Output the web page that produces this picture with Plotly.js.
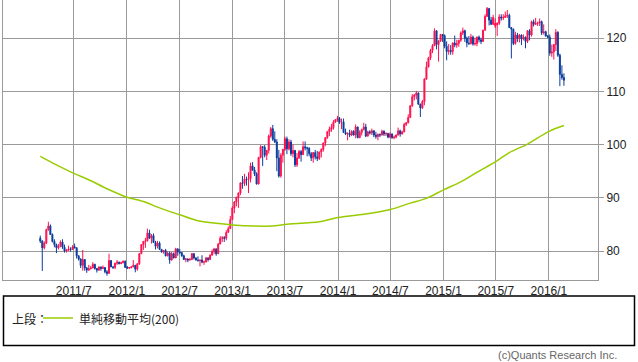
<!DOCTYPE html>
<html>
<head>
<meta charset="utf-8">
<script src="https://cdn.plot.ly/plotly-3.0.1.min.js"></script>
<style>
html,body{margin:0;padding:0;background:#fff;}
#chart{width:638px;height:362px;}
</style>
</head>
<body>
<div id="chart"></div>
<script>
// Weekly bars (week starting Monday), USD/JPY
const weeks = [
'2011-03-07','2011-03-14','2011-03-21','2011-03-28','2011-04-04','2011-04-11','2011-04-18','2011-04-25','2011-05-02','2011-05-09','2011-05-16','2011-05-23','2011-05-30','2011-06-06','2011-06-13','2011-06-20','2011-06-27','2011-07-04','2011-07-11','2011-07-18','2011-07-25','2011-08-01','2011-08-08','2011-08-15','2011-08-22','2011-08-29','2011-09-05','2011-09-12','2011-09-19','2011-09-26','2011-10-03','2011-10-10','2011-10-17','2011-10-24','2011-10-31','2011-11-07','2011-11-14','2011-11-21','2011-11-28','2011-12-05','2011-12-12','2011-12-19','2011-12-26',
'2012-01-02','2012-01-09','2012-01-16','2012-01-23','2012-01-30','2012-02-06','2012-02-13','2012-02-20','2012-02-27','2012-03-05','2012-03-12','2012-03-19','2012-03-26','2012-04-02','2012-04-09','2012-04-16','2012-04-23','2012-04-30','2012-05-07','2012-05-14','2012-05-21','2012-05-28','2012-06-04','2012-06-11','2012-06-18','2012-06-25','2012-07-02','2012-07-09','2012-07-16','2012-07-23','2012-07-30','2012-08-06','2012-08-13','2012-08-20','2012-08-27','2012-09-03','2012-09-10','2012-09-17','2012-09-24','2012-10-01','2012-10-08','2012-10-15','2012-10-22','2012-10-29','2012-11-05','2012-11-12','2012-11-19','2012-11-26','2012-12-03','2012-12-10','2012-12-17','2012-12-24','2012-12-31',
'2013-01-07','2013-01-14','2013-01-21','2013-01-28','2013-02-04','2013-02-11','2013-02-18','2013-02-25','2013-03-04','2013-03-11','2013-03-18','2013-03-25','2013-04-01','2013-04-08','2013-04-15','2013-04-22','2013-04-29','2013-05-06','2013-05-13','2013-05-20','2013-05-27','2013-06-03','2013-06-10','2013-06-17','2013-06-24','2013-07-01','2013-07-08','2013-07-15','2013-07-22','2013-07-29','2013-08-05','2013-08-12','2013-08-19','2013-08-26','2013-09-02','2013-09-09','2013-09-16','2013-09-23','2013-09-30','2013-10-07','2013-10-14','2013-10-21','2013-10-28','2013-11-04','2013-11-11','2013-11-18','2013-11-25','2013-12-02','2013-12-09','2013-12-16','2013-12-23','2013-12-30',
'2014-01-06','2014-01-13','2014-01-20','2014-01-27','2014-02-03','2014-02-10','2014-02-17','2014-02-24','2014-03-03','2014-03-10','2014-03-17','2014-03-24','2014-03-31','2014-04-07','2014-04-14','2014-04-21','2014-04-28','2014-05-05','2014-05-12','2014-05-19','2014-05-26','2014-06-02','2014-06-09','2014-06-16','2014-06-23','2014-06-30','2014-07-07','2014-07-14','2014-07-21','2014-07-28','2014-08-04','2014-08-11','2014-08-18','2014-08-25','2014-09-01','2014-09-08','2014-09-15','2014-09-22','2014-09-29','2014-10-06','2014-10-13','2014-10-20','2014-10-27','2014-11-03','2014-11-10','2014-11-17','2014-11-24','2014-12-01','2014-12-08','2014-12-15','2014-12-22','2014-12-29',
'2015-01-05','2015-01-12','2015-01-19','2015-01-26','2015-02-02','2015-02-09','2015-02-16','2015-02-23','2015-03-02','2015-03-09','2015-03-16','2015-03-23','2015-03-30','2015-04-06','2015-04-13','2015-04-20','2015-04-27','2015-05-04','2015-05-11','2015-05-18','2015-05-25','2015-06-01','2015-06-08','2015-06-15','2015-06-22','2015-06-29','2015-07-06','2015-07-13','2015-07-20','2015-07-27','2015-08-03','2015-08-10','2015-08-17','2015-08-24','2015-08-31','2015-09-07','2015-09-14','2015-09-21','2015-09-28','2015-10-05','2015-10-12','2015-10-19','2015-10-26','2015-11-02','2015-11-09','2015-11-16','2015-11-23','2015-11-30','2015-12-07','2015-12-14','2015-12-21','2015-12-28',
'2016-01-04','2016-01-11','2016-01-18','2016-01-25','2016-02-01','2016-02-08','2016-02-15','2016-02-22'
];

const open = [
82.4,81.9,80.6,81.5,84.0,84.7,83.1,81.8,81.2,80.6,80.9,81.7,80.7,80.0,80.2,80.4,80.3,80.8,80.6,79.1,78.5,77.3,78.4,76.8,76.4,76.7,76.8,77.5,76.7,76.4,77.0,76.7,76.9,76.1,75.8,78.2,77.0,76.9,77.7,77.9,77.6,77.8,78.1,
76.9,76.8,76.9,77.0,77.3,76.6,77.6,79.5,81.2,81.8,81.9,83.4,82.4,82.9,81.6,80.9,81.5,80.3,79.8,80.1,79.1,79.6,78.3,79.5,78.7,80.4,79.8,79.7,79.1,78.4,78.5,78.3,78.4,79.5,78.7,78.3,78.2,78.3,77.9,78.0,78.7,78.4,79.2,79.9,80.4,79.5,81.3,82.4,82.5,82.4,83.5,84.2,85.9,
88.1,89.2,90.1,90.9,92.8,92.7,93.5,93.4,93.6,96.0,95.2,94.5,92.6,97.6,99.6,99.5,98.0,98.9,101.6,103.0,101.0,100.5,97.5,94.1,98.0,99.1,101.1,99.2,100.5,98.3,98.9,96.2,97.5,98.7,98.1,99.6,99.4,99.3,98.3,97.5,98.5,97.7,97.4,98.6,99.1,100.3,101.3,102.4,102.9,103.2,104.2,104.7,
104.9,104.2,104.3,102.3,102.0,102.1,101.8,102.5,101.8,103.3,101.3,102.3,102.8,103.3,101.6,102.4,102.2,102.6,101.8,101.5,101.9,101.8,102.5,102.0,102.1,101.4,102.0,101.3,101.4,101.8,102.6,102.0,102.4,103.8,104.1,105.1,107.3,109.0,109.3,109.7,107.6,106.9,108.1,112.3,114.6,116.3,117.7,118.6,121.4,118.8,119.5,120.7,
120.5,118.5,117.5,117.7,117.5,119.1,118.7,119.0,119.6,121.0,121.4,120.0,119.1,119.0,120.2,118.9,119.0,120.2,119.7,119.4,121.5,124.1,125.6,123.4,122.6,122.3,122.5,122.8,124.0,123.8,123.9,124.2,124.3,122.0,121.7,119.0,120.6,120.0,120.6,119.9,120.2,119.4,121.4,120.6,123.1,122.6,122.8,122.9,123.1,121.0,121.2,120.4,
120.2,117.2,117.4,118.8,121.1,116.8,113.2,112.6
];

const high = [
82.9,82.0,81.8,84.2,85.5,85.0,83.3,82.2,81.4,81.3,82.0,82.2,81.2,80.4,81.0,80.7,81.1,81.4,80.7,79.2,78.6,80.2,78.5,77.0,77.4,77.2,77.9,77.6,76.8,77.1,77.1,77.3,77.0,76.4,79.5,78.3,77.2,77.8,78.3,78.0,78.0,78.2,78.2,
77.2,77.0,77.2,78.3,77.4,77.7,79.6,81.3,81.9,82.5,84.2,84.0,83.2,83.3,81.9,81.9,81.8,80.4,80.2,80.4,79.9,79.9,79.8,79.7,80.6,80.5,80.4,79.8,79.3,78.7,78.6,78.7,79.6,79.6,78.8,79.0,78.4,79.2,78.2,78.9,78.8,79.4,80.3,80.6,80.5,81.5,82.8,82.8,82.8,83.9,84.6,86.6,88.4,
89.4,90.2,91.0,92.9,94.1,94.5,94.0,94.8,96.6,96.7,95.8,94.8,97.7,99.9,99.7,99.9,99.0,101.9,103.3,103.7,102.5,101.0,99.0,98.4,99.2,101.5,101.5,101.0,100.9,100.0,99.0,98.4,99.0,99.0,100.6,100.6,99.6,99.5,98.6,98.6,99.0,98.8,98.7,99.3,100.4,101.4,102.6,103.4,103.9,104.6,104.8,105.4,
105.2,104.9,104.9,103.0,102.3,102.8,102.7,102.7,103.8,103.4,102.7,103.0,104.1,103.9,102.6,102.7,103.0,102.7,102.4,102.1,102.1,102.8,102.7,102.3,102.2,102.3,102.1,101.7,101.9,103.2,102.8,102.6,104.1,104.2,105.7,107.4,109.5,109.5,110.1,109.8,107.7,108.4,112.5,115.6,116.5,118.0,118.9,121.85,121.5,119.6,120.8,120.8,
120.7,119.4,118.9,118.7,119.2,120.5,119.7,119.7,121.3,122.0,121.6,120.3,120.4,120.8,120.5,120.1,120.3,120.5,120.1,121.6,124.5,125.86,125.6,124.0,124.4,123.7,123.0,124.5,124.5,124.5,125.0,125.3,124.6,122.1,121.8,121.2,121.0,120.8,120.7,120.7,120.3,121.5,121.7,123.3,123.5,123.8,123.1,123.7,123.3,122.6,121.4,120.6,
120.7,118.8,118.9,121.7,121.3,117.1,114.9,113.4
];

const low = [
81.5,76.25,80.3,81.3,83.8,83.0,81.6,80.7,79.6,80.3,80.7,80.4,79.7,79.7,80.0,79.9,80.2,80.5,78.6,78.2,76.8,76.3,76.3,75.9,76.3,76.5,76.8,76.5,75.95,76.3,76.3,76.6,75.8,75.35,75.7,77.0,76.6,76.6,77.4,77.5,77.6,77.7,76.9,
76.6,76.6,76.7,77.0,76.0,76.3,77.4,79.4,80.2,80.6,81.8,82.3,81.4,81.5,80.3,80.5,80.3,79.7,79.5,79.0,79.0,77.6,78.2,78.6,78.7,79.1,79.4,78.9,78.3,77.9,77.9,78.2,78.3,78.4,78.2,78.0,77.1,77.7,77.4,77.8,78.0,78.3,79.2,79.4,79.1,79.4,81.3,81.7,81.7,82.0,83.5,84.2,85.9,
87.1,88.4,88.1,90.5,91.7,92.2,92.3,90.9,92.9,95.1,94.1,92.5,92.5,97.4,96.0,97.6,97.1,98.3,101.3,100.7,100.3,95.0,93.8,93.8,96.6,98.8,98.2,98.9,97.9,97.6,95.8,95.8,97.3,96.8,98.1,98.9,97.8,97.8,96.9,96.6,97.2,96.9,97.1,97.6,98.7,99.7,101.1,101.6,102.4,102.8,104.1,104.3,
103.9,102.9,102.2,101.8,100.8,101.4,101.6,101.7,101.2,101.2,101.2,101.7,102.7,101.4,101.5,101.9,101.8,101.4,101.1,100.8,101.4,101.7,101.6,101.6,101.2,101.2,101.1,101.0,101.2,101.7,101.5,101.9,102.3,103.5,104.0,105.0,107.1,108.3,108.5,107.5,105.2,106.7,107.4,112.2,114.5,115.9,117.2,118.5,117.9,115.6,119.3,119.3,
118.1,115.85,116.9,116.9,116.9,118.3,118.2,118.4,119.3,120.6,119.3,118.3,118.7,118.8,118.6,118.6,118.5,119.2,118.9,119.3,121.4,124.0,122.4,122.5,122.5,121.9,120.4,122.5,123.3,123.4,123.8,123.8,121.9,116.2,118.7,118.8,119.3,119.2,118.7,119.6,118.1,119.1,119.6,120.3,122.2,122.5,122.3,122.3,120.6,120.7,120.3,120.0,
116.7,116.5,115.98,117.6,116.5,110.99,112.2,111.05
];

const close = [
81.9,80.6,81.5,84.0,84.7,83.1,81.8,81.2,80.6,80.9,81.7,80.7,80.0,80.2,80.4,80.3,80.8,80.6,79.1,78.5,77.3,78.4,76.8,76.4,76.7,76.8,77.5,76.7,76.4,77.0,76.7,76.9,76.1,75.8,78.2,77.0,76.9,77.7,77.9,77.6,77.8,78.1,76.9,
76.8,76.9,77.0,77.3,76.6,77.6,79.5,81.2,81.8,81.9,83.4,82.4,82.9,81.6,80.9,81.5,80.3,79.8,80.1,79.1,79.6,78.3,79.5,78.7,80.4,79.8,79.7,79.1,78.4,78.5,78.3,78.4,79.5,78.7,78.3,78.2,78.3,77.9,78.0,78.7,78.4,79.2,79.9,80.4,79.5,81.3,82.4,82.5,82.4,83.5,84.2,85.9,88.1,
89.2,90.1,90.9,92.8,92.7,93.5,93.4,93.6,96.0,95.2,94.5,92.6,97.6,99.6,99.5,98.0,98.9,101.6,103.0,101.0,100.5,97.5,94.1,98.0,99.1,101.1,99.2,100.5,98.3,98.9,96.2,97.5,98.7,98.1,99.6,99.4,99.3,98.3,97.5,98.5,97.7,97.4,98.6,99.1,100.3,101.3,102.4,102.9,103.2,104.2,104.7,104.9,
104.2,104.3,102.3,102.0,102.1,101.8,102.5,101.8,103.3,101.3,102.3,102.8,103.3,101.6,102.4,102.2,102.6,101.8,101.5,101.9,101.8,102.5,102.0,102.1,101.4,102.0,101.3,101.4,101.8,102.6,102.0,102.4,103.8,104.1,105.1,107.3,109.0,109.3,109.7,107.6,106.9,108.1,112.3,114.6,116.3,117.7,118.6,121.4,118.8,119.5,120.7,120.5,
118.5,117.5,117.7,117.5,119.1,118.7,119.0,119.6,121.0,121.4,120.0,119.1,119.0,120.2,118.9,119.0,120.2,119.7,119.4,121.5,124.1,125.6,123.4,122.6,123.9,122.8,122.8,124.0,123.8,123.9,124.2,124.3,122.0,121.7,119.0,120.6,120.0,120.6,119.9,120.2,119.4,121.4,120.6,123.1,122.6,122.8,122.9,123.1,121.0,121.2,120.4,120.2,
117.2,117.4,118.8,121.1,116.8,113.2,112.6,112.1
];

// 200-week simple moving average
const maDates = ['2011-03-07','2011-05-02','2011-07-01','2011-08-22','2011-10-24','2012-01-02','2012-02-27','2012-04-23','2012-07-02','2012-08-27','2012-11-05','2013-01-01','2013-03-18','2013-05-20','2013-07-01','2013-10-28','2014-01-01','2014-03-31','2014-07-01','2014-09-08','2014-11-03','2015-01-01','2015-03-02','2015-04-27','2015-07-01','2015-08-17','2015-10-19','2016-01-01','2016-02-22'];
const maValues = [97.8,96.2,94.6,93.4,91.7,90.1,89.3,88.1,86.8,85.8,85.2,84.9,84.7,84.7,85.0,85.5,86.3,86.9,87.8,89.0,89.9,91.5,93.0,94.8,96.8,98.5,100.1,102.5,103.6];

const tickDates = ['2011-07-01','2012-01-01','2012-07-01','2013-01-01','2013-07-01','2014-01-01','2014-07-01','2015-01-01','2015-07-01','2016-01-01'];
const tickLabels = ['2011/7','2012/1','2012/7','2013/1','2013/7','2014/1','2014/7','2015/1','2015/7','2016/1'];
const yTicks = [80,90,100,110,120];

const legendPrefix = '上段：';
const legendLabel = '単純移動平均(200)';
const copyright = '(c)Quants Research Inc.';

const UP = '#ff1050';
const DOWN = '#0a3c9c';
const MA = '#99cc00';
const GRID = '#9a9a9a';
const FONT = 'Liberation Sans, Arial, sans-serif';
const JFONT = 'Noto Sans CJK JP, sans-serif';

const traces = [
  {
    type: 'candlestick',
    x: weeks, open: open, high: high, low: low, close: close,
    increasing: {line: {color: UP, width: 1}, fillcolor: UP},
    decreasing: {line: {color: DOWN, width: 1}, fillcolor: DOWN},
    whiskerwidth: 0,
    hoverinfo: 'skip',
    showlegend: false
  },
  {
    type: 'scatter', mode: 'lines',
    x: maDates, y: maValues,
    line: {color: MA, width: 1.5, shape: 'spline', smoothing: 0.8},
    hoverinfo: 'skip',
    showlegend: false
  }
];

// pixel -> paper helpers (plot area: x 3..598, y 0..280)
const PW = 595, PH = 280, L = 3;
const px = v => (v - L) / PW;
const py = v => (PH - v) / PH;

const layout = {
  width: 638, height: 362,
  margin: {l: 3, r: 40, t: 0, b: 82, pad: 0},
  paper_bgcolor: '#ffffff', plot_bgcolor: '#ffffff',
  showlegend: false,
  hovermode: false,
  xaxis: {
    type: 'date',
    range: ['2010-10-29', '2016-06-19'],
    tickmode: 'array', tickvals: tickDates, ticktext: tickLabels,
    showgrid: true, gridcolor: GRID, gridwidth: 1,
    showline: true, linecolor: GRID, linewidth: 1, mirror: false,
    ticks: '', zeroline: false,
    tickfont: {family: FONT, size: 12, color: '#222'},
    rangeslider: {visible: false},
    fixedrange: true
  },
  yaxis: {
    side: 'right',
    range: [74.55, 127.18],
    tickmode: 'array', tickvals: yTicks,
    showgrid: true, gridcolor: GRID, gridwidth: 1,
    showline: true, linecolor: GRID, linewidth: 1, mirror: true,
    ticks: 'outside', ticklen: 5, tickcolor: GRID, tickwidth: 1,
    zeroline: false,
    tickfont: {family: FONT, size: 12, color: '#222'},
    fixedrange: true
  },
  shapes: [
    {type: 'rect', xref: 'paper', yref: 'paper',
     x0: px(3.5), x1: px(634.5), y0: py(345.5), y1: py(296),
     line: {color: '#000', width: 1.5}, fillcolor: 'rgba(0,0,0,0)'},
    {type: 'line', xref: 'paper', yref: 'paper',
     x0: px(43), x1: px(73), y0: py(318), y1: py(318),
     line: {color: MA, width: 1.5}}
  ],
  annotations: [
    {xref: 'paper', yref: 'paper', x: px(10), y: py(318), xanchor: 'left', yanchor: 'middle',
     text: legendPrefix, showarrow: false, font: {family: JFONT, size: 12, color: '#222'}},
    {xref: 'paper', yref: 'paper', x: px(77), y: py(318), xanchor: 'left', yanchor: 'middle',
     text: legendLabel, showarrow: false, font: {family: JFONT, size: 12, color: '#222'}},
    {xref: 'paper', yref: 'paper', x: px(619), y: py(355), xanchor: 'right', yanchor: 'middle',
     text: copyright, showarrow: false, font: {family: FONT, size: 11, color: '#666'}}
  ]
};

Plotly.newPlot('chart', traces, layout, {staticPlot: true, displayModeBar: false});
</script>
</body>
</html>
